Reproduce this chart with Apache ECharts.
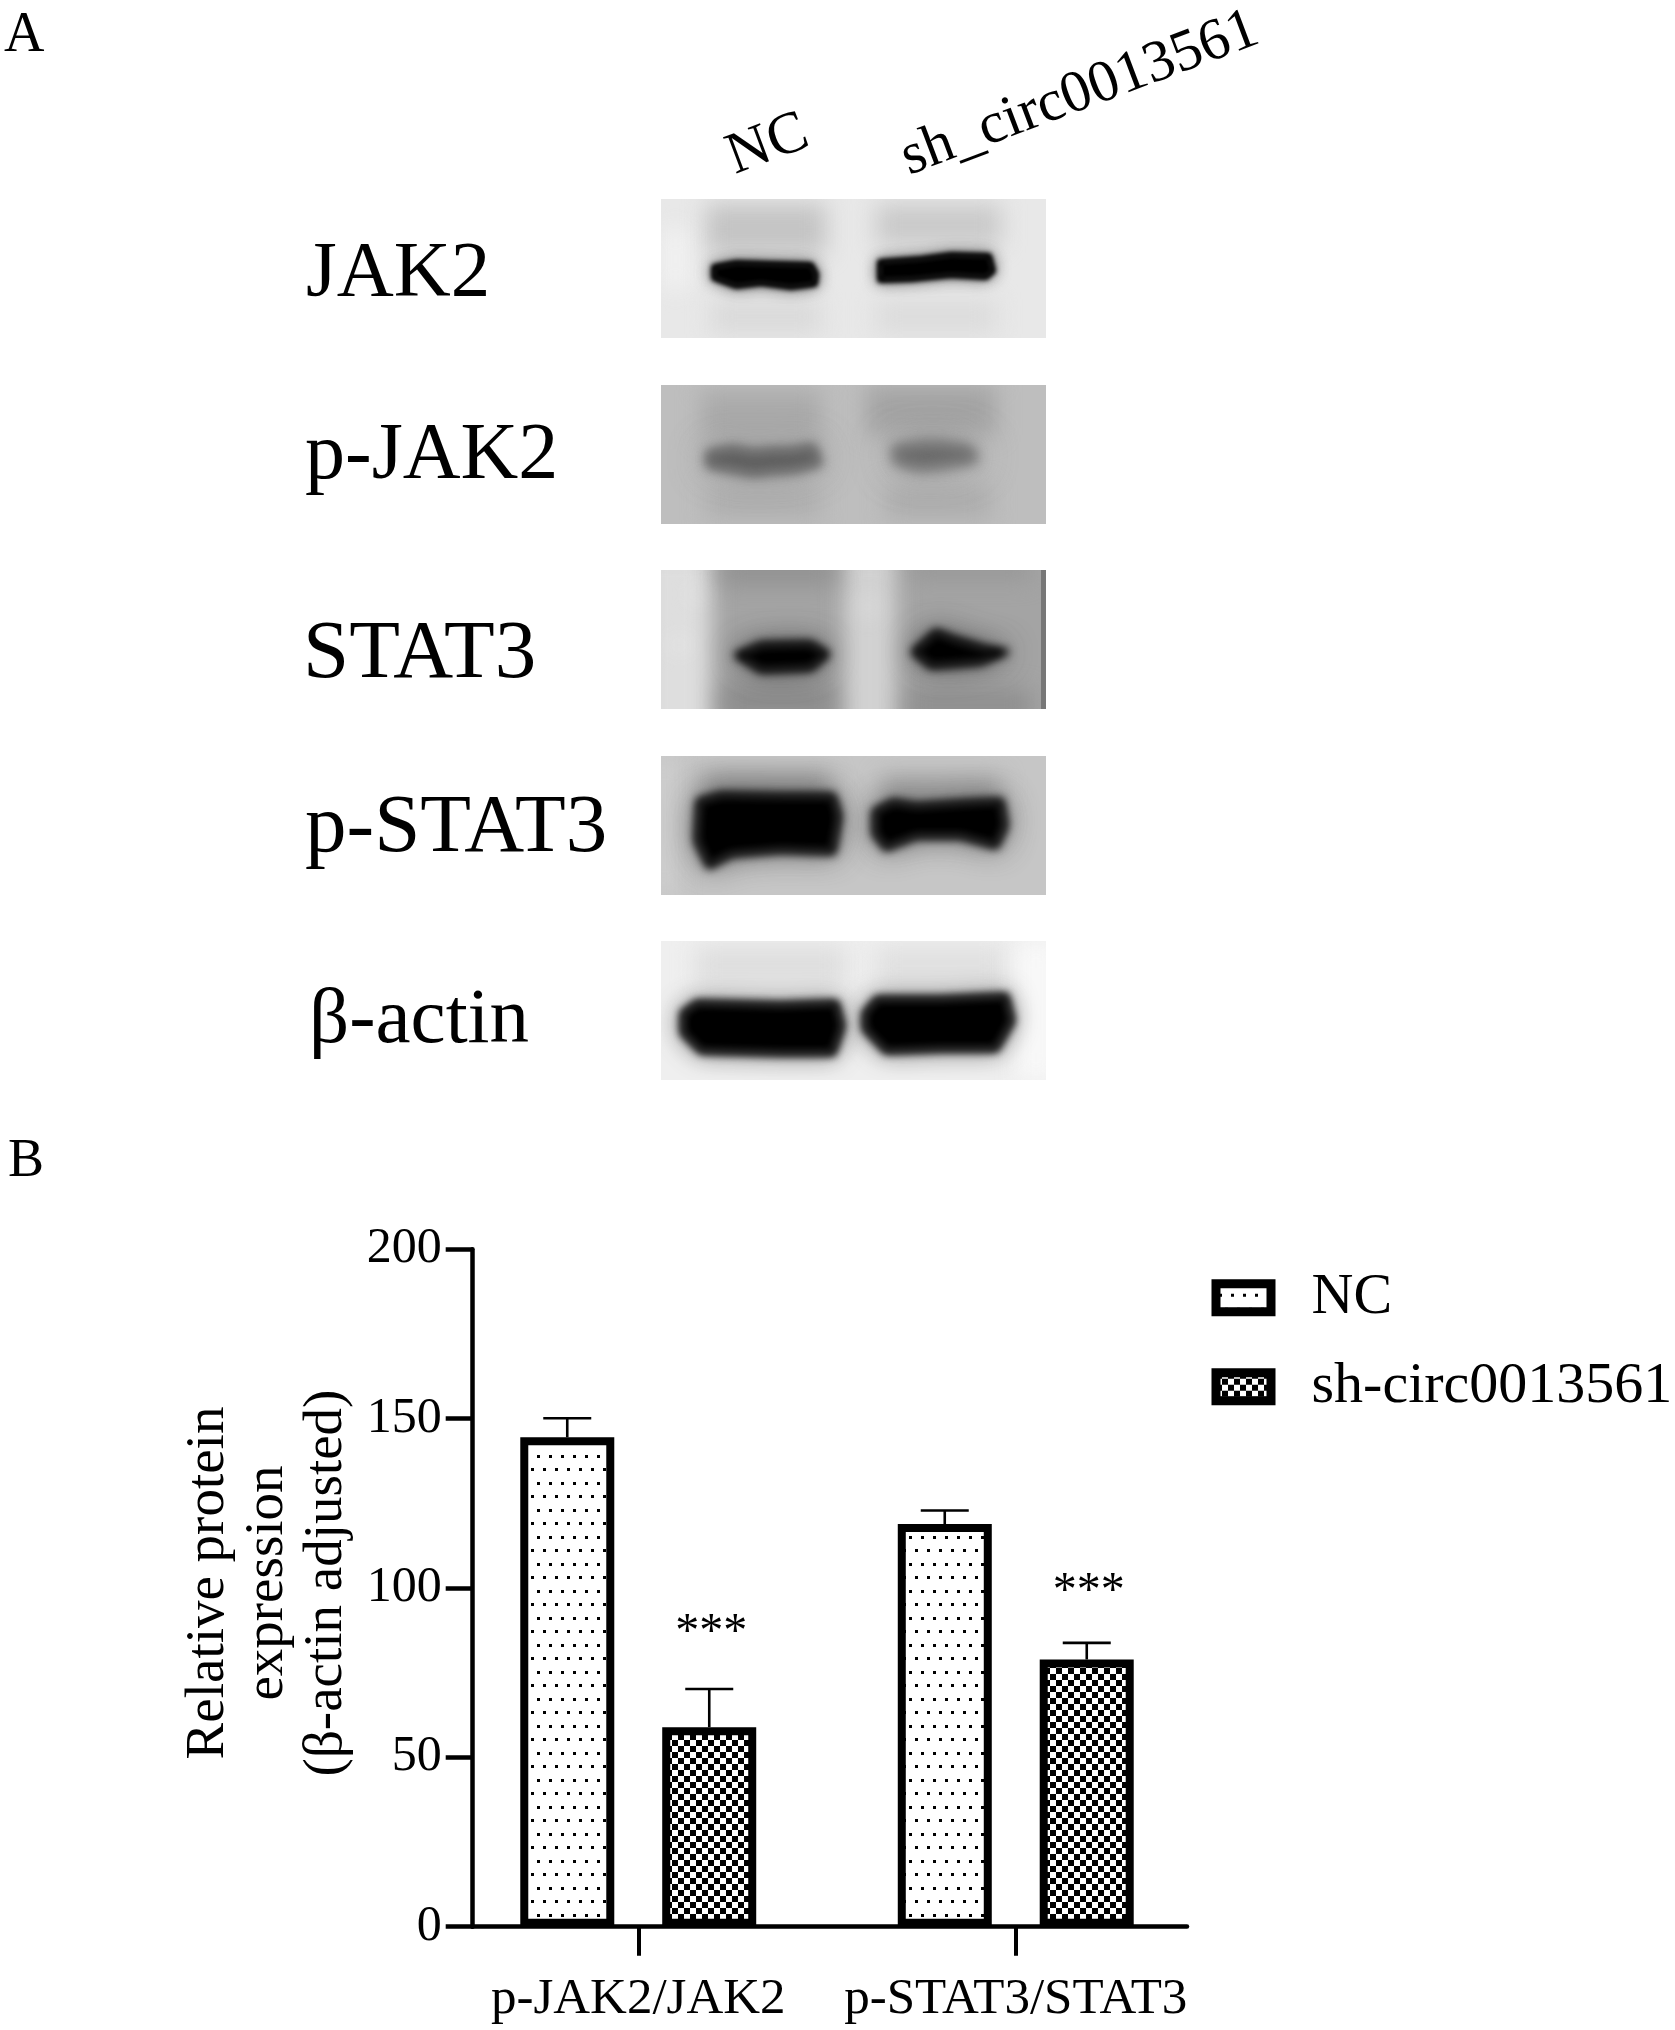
<!DOCTYPE html>
<html>
<head>
<meta charset="utf-8">
<style>html,body{margin:0;padding:0;background:#fff}#c{width:1675px;height:2030px}</style>
<script src="https://cdn.jsdelivr.net/npm/echarts@6/dist/echarts.min.js"></script>
</head>
<body>
<div id="c"></div>
<script>
// ---- chart values ----
const categories = ['p-JAK2/JAK2', 'p-STAT3/STAT3'];
const seriesNames = ['NC', 'sh-circ0013561'];
const ncValues = [144.5, 118.9];
const shValues = [58.9, 78.9];
const ncUpper = [150.1, 122.9];
const shUpper = [70.2, 83.8];
const sigLabels = ['***', '***'];
const sigHeights = [89.4, 101.4];
const yTicks = { min: 0, max: 200, interval: 50 };
const yTitle = 'Relative protein\nexpression\n(β-actin adjusted)';
const blotLabels = ['JAK2', 'p-JAK2', 'STAT3', 'p-STAT3', 'β-actin'];

// ---- drawing constants ----
const FONT = '"Liberation Serif"';
const BAR_W = 94, BAR_OFFSET = 71, BORDER = 8;

function dotTile() {
  const c = document.createElement('canvas'); c.width = 12; c.height = 27;
  const g = c.getContext('2d'); g.fillStyle = '#fff'; g.fillRect(0, 0, 12, 27);
  g.fillStyle = '#000';
  g.fillRect(9, 24, 3, 3); g.fillRect(3, 10, 3, 3);
  return c;
}
function checkTile() {
  const c = document.createElement('canvas'); c.width = 12; c.height = 12;
  const g = c.getContext('2d'); g.fillStyle = '#fff'; g.fillRect(0, 0, 12, 12);
  g.fillStyle = '#000'; g.fillRect(0, 0, 6, 6); g.fillRect(6, 6, 6, 6);
  return c;
}

// Gel panels: painted backgrounds, lane smudges and bands in panel pixels
const PANEL_W = 385, PANEL_H = 139;
const panels = [
  { x: 661, y: 199, bg: '#e8e8e8',
    smudges: [[45, 5, 120, 50, '#c4c4c4'], [215, 5, 125, 42, '#cacaca'], [50, 100, 110, 35, '#dadada'], [215, 100, 120, 35, '#dcdcdc'], [2, 30, 25, 60, '#f2f2f2']],
    bands: [{ c: '#000', halo: '#4a4a4a', blur: 2.5, pts: [[53, 68], [75, 64], [110, 65], [150, 66], [155, 75], [154, 85], [130, 88], [100, 84], [75, 87], [53, 79]] },
            { c: '#000', halo: '#4a4a4a', blur: 2.5, pts: [[219, 63], [260, 60], [290, 56], [328, 57], [332, 72], [325, 78], [290, 76], [250, 80], [219, 81]] }] },
  { x: 661, y: 385, bg: '#bebebe',
    smudges: [[40, 5, 120, 50, '#aaaaaa'], [205, 0, 130, 50, '#a4a4a4'], [45, 100, 115, 35, '#b0b0b0'], [225, 100, 105, 35, '#aeaeae']],
    bands: [{ c: '#5e5e5e', halo: '#858585', blur: 6, pts: [[48, 68], [72, 64], [92, 68], [112, 66], [130, 66], [152, 62], [158, 78], [135, 84], [110, 86], [92, 88], [70, 84], [48, 80]] },
            { c: '#686868', halo: '#8c8c8c', blur: 7, pts: [[234, 64], [260, 60], [280, 60], [308, 64], [314, 74], [280, 80], [258, 82], [236, 76]] }] },
  { x: 661, y: 570, bg: '#a4a4a4',
    smudges: [[-20, -20, 70, 190, '#dedede'], [183, -20, 52, 190, '#d2d2d2'], [60, 115, 115, 35, '#8c8c8c'], [245, 120, 125, 30, '#8e8e8e'], [60, -15, 115, 30, '#929292'], [250, -15, 120, 25, '#989898'], [30, 20, 10, 8, '#f0f0f0'], [12, 70, 12, 10, '#f2f2f2'], [200, 30, 14, 14, '#e2e2e2']],
    edge: true,
    bands: [{ c: '#000', halo: '#3c3c3c', blur: 5, pts: [[76, 85], [100, 75], [150, 74], [166, 84], [150, 98], [100, 100]] },
            { c: '#000', halo: '#3c3c3c', blur: 5, pts: [[253, 82], [275, 62], [295, 70], [322, 78], [345, 82], [320, 92], [270, 96]] }] },
  { x: 661, y: 756, bg: '#c6c6c6',
    smudges: [[40, 15, 130, 30, '#9c9c9c'], [220, 20, 120, 30, '#a2a2a2'], [-10, 0, 25, 139, '#cecece']],
    bands: [{ c: '#000', halo: '#4a4a4a', blur: 5, pts: [[38, 45], [60, 39], [120, 40], [172, 40], [178, 60], [172, 96], [120, 94], [70, 98], [48, 110], [36, 85]] },
            { c: '#000', halo: '#4a4a4a', blur: 5, pts: [[214, 55], [232, 46], [255, 50], [300, 47], [340, 45], [344, 70], [335, 90], [300, 80], [255, 80], [225, 92], [214, 78]] }] },
  { x: 661, y: 941, bg: '#efefef',
    smudges: [[35, 5, 150, 40, '#dedede'], [215, 5, 130, 40, '#e0e0e0'], [355, 0, 40, 139, '#f8f8f8']],
    bands: [{ c: '#000', halo: '#555', blur: 4, pts: [[22, 72], [36, 62], [120, 64], [175, 62], [181, 85], [172, 112], [120, 112], [40, 110], [22, 92]] },
            { c: '#000', halo: '#555', blur: 4, pts: [[204, 72], [216, 58], [280, 58], [345, 55], [351, 80], [335, 108], [280, 108], [225, 110], [204, 88]] }] }
];

function blob(g, pts) {
  g.beginPath();
  pts.forEach((p, i) => i ? g.lineTo(p[0], p[1]) : g.moveTo(p[0], p[1]));
  g.closePath(); g.lineJoin = 'round'; g.lineWidth = 6; g.fill(); g.stroke();
}
function paintPanel(p) {
  const c = document.createElement('canvas'); c.width = PANEL_W; c.height = PANEL_H;
  const g = c.getContext('2d');
  g.fillStyle = p.bg; g.fillRect(0, 0, PANEL_W, PANEL_H);
  g.filter = 'blur(11px)';
  p.smudges.forEach(s => { g.fillStyle = s[4]; g.fillRect(s[0], s[1], s[2], s[3]); });
  p.bands.forEach(b => {
    g.filter = 'blur(' + (b.blur * 3) + 'px)';
    g.fillStyle = g.strokeStyle = b.halo; g.globalAlpha = 0.75; blob(g, b.pts); g.globalAlpha = 1;
    g.filter = 'blur(' + b.blur + 'px)';
    g.fillStyle = g.strokeStyle = b.c; blob(g, b.pts);
  });
  g.filter = 'none';
  if (p.edge) { g.fillStyle = '#777'; g.fillRect(PANEL_W - 5, 0, 5, PANEL_H); }
  return c;
}

const labelPos = [[306, 298], [305, 481], [303, 680], [305, 854], [309, 1045]];
const labelSize = [79, 80, 83, 83, 79];
const graphics = [];
panels.forEach(p => graphics.push({ type: 'image', x: p.x, y: p.y, silent: true, style: { image: paintPanel(p), width: PANEL_W, height: PANEL_H } }));
function txt(t, x, y, size, rotation, align) {
  return { type: 'text', x, y, rotation: rotation || 0, style: { text: t, font: size + 'px ' + FONT, fill: '#000', align: align || 'left', verticalAlign: 'middle' } };
}
blotLabels.forEach((t, i) => graphics.push(txt(t, labelPos[i][0], labelPos[i][1] - 0.30 * labelSize[i], labelSize[i])));
graphics.push(
  txt('A', 4, 36, 56),
  txt('B', 8, 1162, 54),
  txt('NC', 768, 145, 59, 0.36, 'center'),
  txt('sh_circ0013561', 1080, 94, 59, 0.36, 'center')
);

const chart = echarts.init(document.getElementById('c'), null, { renderer: 'canvas', width: 1675, height: 2030 });

function errorSeries(upper, values, dir) {
  return {
    type: 'custom', xAxisIndex: 0, yAxisIndex: 0, z: 3, silent: true,
    data: categories.map((c, i) => [i, values[i], upper[i]]),
    renderItem(params, api) {
      const base = api.coord([api.value(0), api.value(1)]);
      const top = api.coord([api.value(0), api.value(2)]);
      const x = base[0] + dir * BAR_OFFSET;
      const st = { stroke: '#000', lineWidth: 2.6 };
      return { type: 'group', children: [
        { type: 'line', shape: { x1: x, y1: base[1], x2: x, y2: top[1] }, style: st },
        { type: 'line', shape: { x1: x - 24, y1: top[1], x2: x + 24, y2: top[1] }, style: st }
      ] };
    }
  };
}

chart.setOption({
  animation: false,
  backgroundColor: '#fff',
  textStyle: { fontFamily: FONT, color: '#000' },
  grid: [
    { left: 449.5, top: 1249.3, width: 755, height: 677.4 },
    { left: 472.7, top: 1249.3, width: 714.3, height: 677.4 }
  ],
  xAxis: [
    { type: 'category', gridIndex: 0, data: categories,
      axisLine: { show: false },
      axisTick: { show: true, alignWithLabel: true, length: 29, lineStyle: { color: '#000', width: 4 } },
      axisLabel: { color: '#000', fontFamily: FONT, fontSize: 51, margin: 47, interval: 0 } },
    { type: 'value', gridIndex: 1, min: 0, max: 1, position: 'bottom',
      axisLine: { show: true, onZero: false, lineStyle: { color: '#000', width: 4.5 } },
      axisTick: { show: false }, axisLabel: { show: false }, splitLine: { show: false } }
  ],
  yAxis: [
    { type: 'value', gridIndex: 0, show: false, min: yTicks.min, max: yTicks.max, interval: yTicks.interval, splitLine: { show: false } },
    { type: 'value', gridIndex: 1, min: yTicks.min, max: yTicks.max, interval: yTicks.interval,
      name: yTitle, nameLocation: 'middle', nameRotate: 90, nameGap: 117,
      nameTextStyle: { color: '#000', fontFamily: FONT, fontSize: 55, lineHeight: 59, padding: [0, 0, 0, 10] },
      axisLine: { show: true, lineStyle: { color: '#000', width: 4.5 } },
      axisTick: { show: true, length: 27, lineStyle: { color: '#000', width: 4.5 } },
      axisLabel: { color: '#000', fontFamily: FONT, fontSize: 50, margin: 31, padding: [5, 0, 0, 0] },
      splitLine: { show: false } }
  ],
  legend: {
    orient: 'vertical', left: 1206.5, top: 1263.7,
    data: seriesNames, itemWidth: 55, itemHeight: 28, itemGap: 31, icon: 'rect',
    textStyle: { color: '#000', fontFamily: FONT, fontSize: 58, padding: [0, 0, 0, 35.5] },
    itemStyle: { borderColor: '#000', borderWidth: 9 },
    selectedMode: false
  },
  graphic: graphics,
  series: [
    { name: seriesNames[0], type: 'bar', xAxisIndex: 0, yAxisIndex: 0, barWidth: BAR_W, barGap: '51%', z: 2,
      data: ncValues, itemStyle: { color: { image: dotTile(), repeat: 'repeat' }, borderColor: '#000', borderWidth: BORDER } },
    { name: seriesNames[1], type: 'bar', xAxisIndex: 0, yAxisIndex: 0, barWidth: BAR_W, barGap: '51%', z: 2,
      data: shValues, itemStyle: { color: { image: checkTile(), repeat: 'repeat' }, borderColor: '#000', borderWidth: BORDER } },
    errorSeries(ncUpper, ncValues, -1),
    errorSeries(shUpper, shValues, 1),
    { type: 'custom', xAxisIndex: 0, yAxisIndex: 0, z: 3, silent: true,
      data: categories.map((c, i) => [i, sigHeights[i]]),
      renderItem(params, api) {
        const p = api.coord([api.value(0), api.value(1)]);
        return { type: 'text', x: p[0] + BAR_OFFSET + 2, y: p[1] + 9, style: { text: sigLabels[params.dataIndex], font: '48px ' + FONT, fill: '#000', align: 'center', verticalAlign: 'middle' } };
      } }
  ]
});
</script>
</body>
</html>
